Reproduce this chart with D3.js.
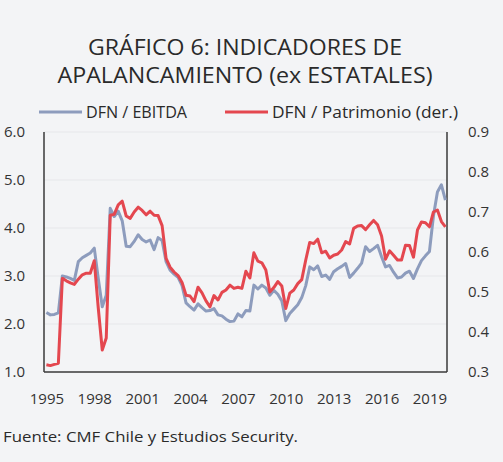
<!DOCTYPE html>
<html>
<head>
<meta charset="utf-8">
<script src="https://cdn.jsdelivr.net/npm/d3@7/dist/d3.min.js"></script>
<style>
  html, body { margin: 0; padding: 0; background: #f3f4f6; }
  svg { display: block; }
  text { font-family: "Open Sans", "DejaVu Sans", sans-serif; fill: #2a2a2a; }
</style>
</head>
<body>
<svg id="chart" width="503" height="462"></svg>
<script>
// Quarterly observations, 1995Q1 .. 2020Q1
const startYear = 1995;
const dfnEbitda = [
  2.24, 2.19, 2.20, 2.23, 3.00, 2.98, 2.95, 2.91, 3.30, 3.38,
  3.43, 3.48, 3.58, 2.95, 2.36, 2.60, 4.41, 4.24, 4.35, 4.15,
  3.62, 3.61, 3.72, 3.86, 3.76, 3.71, 3.75, 3.55, 3.80, 3.74,
  3.30, 3.12, 3.04, 2.97, 2.80, 2.44, 2.36, 2.29, 2.42, 2.34,
  2.27, 2.28, 2.32, 2.19, 2.17, 2.10, 2.05, 2.06, 2.21, 2.15,
  2.28, 2.27, 2.81, 2.73, 2.81, 2.75, 2.60, 2.70, 2.62, 2.48,
  2.07, 2.22, 2.31, 2.40, 2.55, 2.80, 3.19, 3.13, 3.21, 2.99,
  3.02, 2.93, 3.09, 3.15, 3.20, 3.26, 2.97, 3.06, 3.16, 3.27,
  3.61, 3.51, 3.57, 3.64, 3.40, 3.19, 3.22, 3.08, 2.96, 2.98,
  3.06, 3.10, 2.95, 3.15, 3.32, 3.42, 3.51, 4.25, 4.75, 4.90,
  4.58
];
const dfnPatrimonio = [
  0.318, 0.316, 0.319, 0.322, 0.534, 0.528, 0.523, 0.519, 0.532, 0.543,
  0.547, 0.547, 0.578, 0.460, 0.355, 0.385, 0.692, 0.694, 0.718, 0.727,
  0.690, 0.684, 0.700, 0.712, 0.704, 0.693, 0.702, 0.692, 0.691, 0.666,
  0.584, 0.562, 0.550, 0.541, 0.524, 0.492, 0.490, 0.476, 0.512, 0.498,
  0.478, 0.463, 0.491, 0.480, 0.499, 0.505, 0.517, 0.509, 0.512, 0.509,
  0.552, 0.535, 0.598, 0.577, 0.573, 0.555, 0.500, 0.511, 0.526, 0.515,
  0.459, 0.497, 0.505, 0.521, 0.531, 0.580, 0.624, 0.621, 0.632, 0.598,
  0.602, 0.585, 0.592, 0.595, 0.605, 0.626, 0.620, 0.659, 0.665, 0.666,
  0.656, 0.668, 0.679, 0.668, 0.640, 0.582, 0.603, 0.592, 0.580, 0.580,
  0.617, 0.616, 0.587, 0.655, 0.675, 0.673, 0.663, 0.700, 0.705, 0.676,
  0.663
];
const xTickYears = [1995, 1998, 2001, 2004, 2007, 2010, 2013, 2016, 2019];
const leftTicks = [1, 2, 3, 4, 5, 6];
const rightTicks = [0.3, 0.4, 0.5, 0.6, 0.7, 0.8, 0.9];
const titleLines = ["GRÁFICO 6: INDICADORES DE", "APALANCAMIENTO (ex ESTATALES)"];
const seriesNames = ["DFN / EBITDA", "DFN / Patrimonio (der.)"];
const sourceText = "Fuente: CMF Chile y Estudios Security.";

const colBlue = "#8d9cbd";
const colRed = "#e4474f";

const svg = d3.select("#chart");
const L = 44, R = 447, T = 132, B = 372;

const x = d3.scaleLinear().domain([1994.85, 2020.1]).range([L, R]);
const yL = d3.scaleLinear().domain([1, 6]).range([B, T]);
const yR = d3.scaleLinear().domain([0.3, 0.9]).range([B, T]);

// title
svg.selectAll("text.title").data(titleLines).join("text")
  .attr("class", "title")
  .attr("x", 245).attr("y", (d, i) => 55 + i * 28)
  .attr("text-anchor", "middle")
  .style("font-size", "21px").style("font-weight", 500)
  .attr("textLength", (d, i) => i === 0 ? 314 : 375)
  .attr("lengthAdjust", "spacingAndGlyphs")
  .text(d => d);

// gridlines
svg.append("g").selectAll("line").data(leftTicks.slice(1)).join("line")
  .attr("x1", L).attr("x2", R)
  .attr("y1", d => yL(d)).attr("y2", d => yL(d))
  .attr("stroke", "#e6e7ea").attr("stroke-width", 1);

// axes
const axL = svg.append("g").attr("transform", `translate(${L},0)`)
  .call(d3.axisLeft(yL).tickValues(leftTicks).tickFormat(d3.format(".1f")).tickSize(0).tickPadding(19));
const axR = svg.append("g").attr("transform", `translate(${R},0)`)
  .call(d3.axisRight(yR).tickValues(rightTicks).tickFormat(d3.format(".1f")).tickSize(0).tickPadding(21));
const axB = svg.append("g").attr("transform", `translate(0,${B})`)
  .call(d3.axisBottom(x).tickValues(xTickYears).tickFormat(d3.format("d")).tickSize(0).tickPadding(21));
[axL, axR, axB].forEach(g => {
  g.select(".domain").attr("stroke", "#3a3a3a").attr("stroke-width", 1.5);
  g.selectAll("text").style("font-size", "15px").style("fill", "#333")
    .style("font-family", "'Open Sans', sans-serif");
});
axB.select(".domain").attr("d", `M${L},0H${R}`);
axL.select(".domain").attr("d", `M0,${T}V${B}`);
axR.select(".domain").attr("d", `M0,${T}V${B}`);

// lines
const dates = dfnEbitda.map((d, i) => startYear + i / 4);
const lineL = d3.line().x((d, i) => x(dates[i])).y(d => yL(d));
const lineR = d3.line().x((d, i) => x(dates[i])).y(d => yR(d));
svg.append("path").datum(dfnEbitda).attr("d", lineL)
  .attr("fill", "none").attr("stroke", colBlue).attr("stroke-width", 3).attr("stroke-linejoin", "round");
svg.append("path").datum(dfnPatrimonio).attr("d", lineR)
  .attr("fill", "none").attr("stroke", colRed).attr("stroke-width", 3).attr("stroke-linejoin", "round");

// legend
const legend = [{name: seriesNames[0], c: colBlue, x0: 39}, {name: seriesNames[1], c: colRed, x0: 225}];
const lg = svg.append("g").selectAll("g").data(legend).join("g");
lg.append("line").attr("x1", d => d.x0).attr("x2", d => d.x0 + 43)
  .attr("y1", 112).attr("y2", 112).attr("stroke", d => d.c).attr("stroke-width", 3);
lg.append("text").attr("x", d => d.x0 + 47).attr("y", 117.5)
  .style("font-size", "16px")
  .attr("textLength", (d, i) => i === 0 ? 101 : 186)
  .attr("lengthAdjust", "spacingAndGlyphs")
  .text(d => d.name);

// source
svg.append("text").attr("x", 3).attr("y", 442)
  .style("font-size", "15px")
  .attr("textLength", 295).attr("lengthAdjust", "spacingAndGlyphs")
  .text(sourceText);
</script>
</body>
</html>
